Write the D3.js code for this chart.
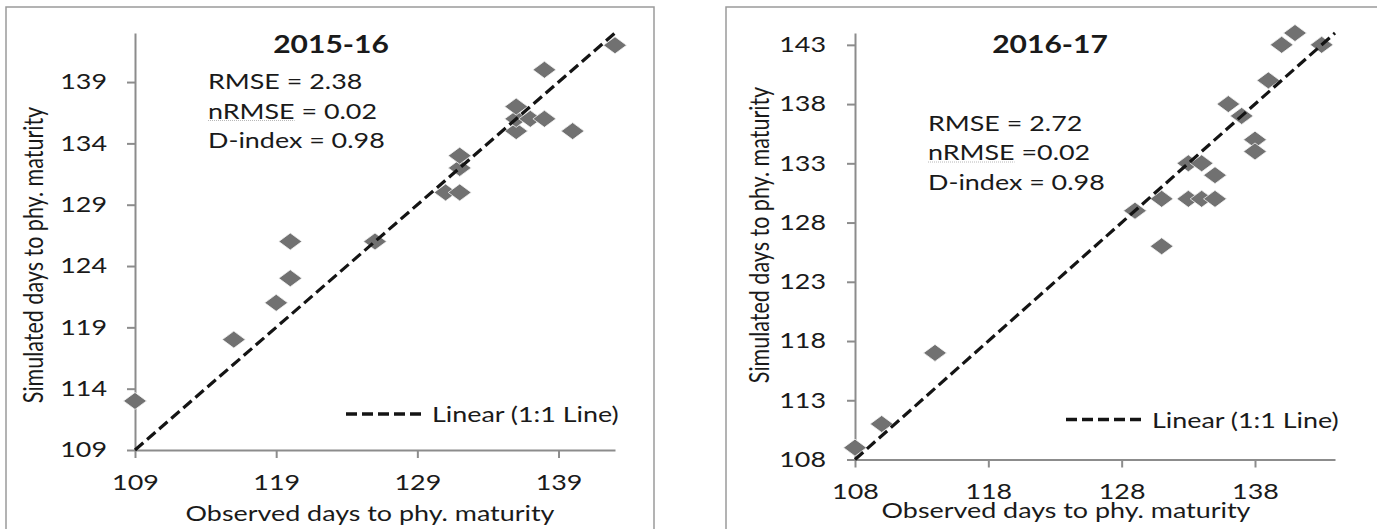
<!DOCTYPE html>
<html lang="en">
<head>
    <meta charset="UTF-8">
    <title>Observed vs simulated days to physiological maturity</title>
    <script src="https://cdnjs.cloudflare.com/ajax/libs/d3/7.8.5/d3.min.js"></script>
    <style type="text/css">
        body { margin: 0; background: #fff; }
        svg { display: block; }
    </style>
</head>
<body>
<div class="container"></div>
</body>
<script>
    // observed (x) and simulated (y) days to physiological maturity
    const obs1516 = [109, 116, 119, 120, 120, 126, 131, 132, 132, 132, 136, 136, 136, 137, 138, 138, 140, 143];
    const sim1516 = [113, 118, 121, 123, 126, 126, 130, 130, 132, 133, 135, 136, 137, 136, 136, 140, 135, 142];

    const obs1617 = [108, 110, 114, 129, 131, 131, 133, 133, 134, 134, 135, 135, 136, 137, 138, 138, 139, 140, 141, 143];
    const sim1617 = [109, 111, 117, 129, 130, 126, 133, 130, 133, 130, 132, 130, 138, 137, 135, 134, 140, 143, 144, 143];

    const xTicks1516 = [109, 119, 129, 139];
    const yTicks1516 = [109, 114, 119, 124, 129, 134, 139];
    const xTicks1617 = [108, 118, 128, 138];
    const yTicks1617 = [108, 113, 118, 123, 128, 133, 138, 143];

    const domain1516 = [109, 143];
    const domain1617 = [108, 144];

    const stats1516 = ['RMSE = 2.38', 'nRMSE = 0.02', 'D-index = 0.98'];
    const stats1617 = ['RMSE = 2.72', 'nRMSE =0.02', 'D-index = 0.98'];

    const xTitle = 'Observed days to phy. maturity';
    const yTitle = 'Simulated days to phy. maturity';
    const legendText = 'Linear (1:1 Line)';

    // the source figure is stretched horizontally
    const sx = 1.25;
    const font = "Lato, 'Open Sans', sans-serif";
    const fontSize = 21.5;

    const svg = d3.select('.container')
        .append('svg')
        .attr('width', 1377)
        .attr('height', 529);

    function putText(g, x, y, str, opts = {}) {
        const rot = opts.rotate ? ' rotate(-90) scale(1,' + sx + ')' : ' scale(' + sx + ',1)';
        return g.append('text')
            .attr('transform', 'translate(' + x + ',' + y + ')' + rot)
            .attr('font-family', font)
            .attr('font-size', opts.size || fontSize)
            .attr('font-weight', opts.weight || 'normal')
            .attr('text-anchor', opts.anchor || 'start')
            .attr('fill', '#1a1a1a')
            .text(str);
    }

    function drawPanel(p) {
        const g = svg.append('g');

        g.append('rect')
            .attr('x', p.box[0])
            .attr('y', p.box[1])
            .attr('width', p.box[2])
            .attr('height', p.box[3])
            .attr('fill', 'none')
            .attr('stroke', '#9a9a9a')
            .attr('stroke-width', 1.5);

        const x = d3.scaleLinear().domain(p.domain).range(p.xRange);
        const y = d3.scaleLinear().domain(p.domain).range(p.yRange);

        const xAxis = g.append('g')
            .attr('transform', 'translate(0,' + p.yRange[0] + ')')
            .call(d3.axisBottom(x).tickValues(p.xTicks).tickSize(8).tickSizeOuter(0).tickFormat(d3.format('d')));

        const yAxis = g.append('g')
            .attr('transform', 'translate(' + p.xRange[0] + ',0)')
            .call(d3.axisLeft(y).tickValues(p.yTicks).tickSize(8).tickSizeOuter(0).tickFormat(d3.format('d')));

        [xAxis, yAxis].forEach(a => {
            a.select('.domain').attr('stroke', '#8c8c8c').attr('stroke-width', 2);
            a.selectAll('.tick line').attr('stroke', '#8c8c8c').attr('stroke-width', 2);
            a.selectAll('.tick text')
                .attr('font-family', font)
                .attr('font-size', fontSize)
                .attr('fill', '#1a1a1a');
        });

        xAxis.selectAll('.tick text')
            .attr('y', p.xLabelGap)
            .attr('x', 0)
            .attr('transform', 'scale(' + sx + ',1)');

        yAxis.selectAll('.tick text')
            .attr('x', -p.yLabelGap / sx)
            .attr('transform', 'scale(' + sx + ',1)');

        // points
        const pts = p.obs.map((d, i) => ({x: d, y: p.sim[i]}));
        g.selectAll('path.pt')
            .data(pts)
            .enter()
            .append('path')
            .attr('class', 'pt')
            .attr('d', 'M0,-8.5L11.5,0L0,8.5L-11.5,0Z')
            .attr('transform', d => 'translate(' + x(d.x) + ',' + y(d.y) + ')')
            .attr('fill', '#717171')
            .attr('stroke', '#f4f4f4')
            .attr('stroke-width', 0.8);

        // 1:1 line
        const line = d3.line()
            .x(d => x(d))
            .y(d => y(d));

        g.append('path')
            .attr('d', line(p.domain))
            .attr('fill', 'none')
            .attr('stroke', '#141414')
            .attr('stroke-width', 3.2)
            .attr('stroke-dasharray', '11,5');

        // titles
        putText(g, p.titlePos[0], p.titlePos[1], p.title, {size: 24, weight: 'bold', anchor: 'middle'});
        putText(g, p.xTitlePos[0], p.xTitlePos[1], xTitle, {anchor: 'middle'});
        putText(g, p.yTitlePos[0], p.yTitlePos[1], yTitle, {anchor: 'middle', rotate: true});

        // stats
        p.stats.forEach((s, i) => {
            putText(g, p.statsPos[0], p.statsPos[1] + i * p.statsStep, s);
        });

        // squiggle under nRMSE
        const probe = putText(g, 0, 0, 'nRMSE');
        const w = probe.node().getComputedTextLength() * sx;
        probe.remove();
        g.append('line')
            .attr('x1', p.statsPos[0])
            .attr('x2', p.statsPos[0] + w)
            .attr('y1', p.statsPos[1] + p.statsStep + 2)
            .attr('y2', p.statsPos[1] + p.statsStep + 2)
            .attr('stroke', '#b8b8b8')
            .attr('stroke-width', 1)
            .attr('stroke-dasharray', '1,1');

        // legend
        g.append('line')
            .attr('x1', p.legendPos[0])
            .attr('x2', p.legendPos[0] + 79)
            .attr('y1', p.legendPos[1])
            .attr('y2', p.legendPos[1])
            .attr('stroke', '#141414')
            .attr('stroke-width', 3.5)
            .attr('stroke-dasharray', '11,5');

        putText(g, p.legendPos[0] + 86, p.legendPos[1] + 8, legendText);
    }

    drawPanel({
        box: [6, 7, 648, 540],
        domain: domain1516,
        xRange: [135, 615],
        yRange: [450, 33],
        xTicks: xTicks1516,
        yTicks: yTicks1516,
        xLabelGap: 25,
        yLabelGap: 28,
        obs: obs1516,
        sim: sim1516,
        title: '2015-16',
        titlePos: [331, 53],
        xTitlePos: [370, 521],
        yTitlePos: [42.5, 255],
        stats: stats1516,
        statsPos: [208, 89],
        statsStep: 29.5,
        legendPos: [346, 414]
    });

    drawPanel({
        box: [726, 7, 680, 540],
        domain: domain1617,
        xRange: [855, 1335],
        yRange: [459.5, 33],
        xTicks: xTicks1617,
        yTicks: yTicks1617,
        xLabelGap: 24,
        yLabelGap: 29,
        obs: obs1617,
        sim: sim1617,
        title: '2016-17',
        titlePos: [1050, 53],
        xTitlePos: [1066, 518],
        yTitlePos: [769, 235],
        stats: stats1617,
        statsPos: [928, 130.5],
        statsStep: 29.5,
        legendPos: [1066, 419.5]
    });
</script>
</html>
